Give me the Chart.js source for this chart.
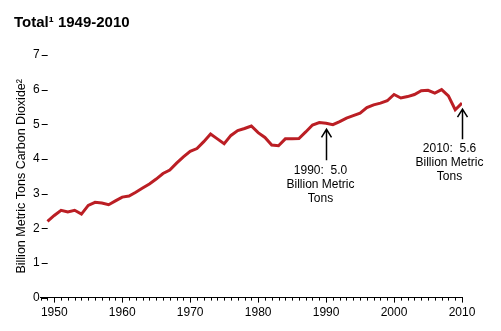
<!DOCTYPE html>
<html>
<head>
<meta charset="utf-8">
<script src="https://cdn.jsdelivr.net/npm/chart.js@4/dist/chart.umd.min.js"></script>
<style>
  html, body { margin: 0; padding: 0; background: #fff; }
  #wrap { width: 501px; height: 331px; }
</style>
</head>
<body>
<div id="wrap"><canvas id="chart"></canvas></div>
<script>
var years = [1949, 1950, 1951, 1952, 1953, 1954, 1955, 1956, 1957, 1958, 1959,
  1960, 1961, 1962, 1963, 1964, 1965, 1966, 1967, 1968, 1969,
  1970, 1971, 1972, 1973, 1974, 1975, 1976, 1977, 1978, 1979,
  1980, 1981, 1982, 1983, 1984, 1985, 1986, 1987, 1988, 1989,
  1990, 1991, 1992, 1993, 1994, 1995, 1996, 1997, 1998, 1999,
  2000, 2001, 2002, 2003, 2004, 2005, 2006, 2007, 2008, 2009, 2010];
var emissions = [2.20, 2.37, 2.52, 2.47, 2.52, 2.41, 2.66, 2.75, 2.73, 2.68, 2.79,
  2.90, 2.93, 3.04, 3.16, 3.28, 3.42, 3.58, 3.68, 3.88, 4.06,
  4.22, 4.30, 4.50, 4.72, 4.58, 4.44, 4.68, 4.82, 4.88, 4.95,
  4.76, 4.62, 4.40, 4.38, 4.58, 4.58, 4.59, 4.78, 4.98, 5.05,
  5.03, 4.99, 5.08, 5.18, 5.25, 5.32, 5.48, 5.56, 5.61, 5.68,
  5.86, 5.76, 5.80, 5.86, 5.97, 5.98, 5.90, 6.00, 5.82, 5.42, 5.61];
var xLabels = [1950, 1960, 1970, 1980, 1990, 2000, 2010];
var yLabels = [0, 1, 2, 3, 4, 5, 6, 7];
var notes = [
  { year: 1990, value: 5.03, text: ["1990:  5.0", "Billion Metric", "Tons"] },
  { year: 2010, value: 5.61, text: ["2010:  5.6", "Billion Metric", "Tons"] }
];

var FONT = '"Liberation Sans", Arial, sans-serif';

// minor year ticks, y dashes and the two arrow notes
var marksPlugin = {
  id: "marks",
  afterDraw: function (chart) {
    var ctx = chart.ctx;
    var xs = chart.scales.x;
    var ys = chart.scales.y;
    var area = chart.chartArea;
    ctx.save();
    ctx.strokeStyle = "#000";
    ctx.lineWidth = 1;
    ctx.beginPath();
    for (var yr = xs.min; yr <= xs.max; yr++) {
      var px = Math.round(xs.getPixelForValue(yr)) + 0.5;
      ctx.moveTo(px, area.bottom);
      ctx.lineTo(px, area.bottom + 3);
    }
    yLabels.forEach(function (v) {
      var py = Math.round(ys.getPixelForValue(v)) + 0.5;
      ctx.moveTo(area.left + 1, py);
      ctx.lineTo(area.left + 7, py);
    });
    ctx.stroke();

    notes.forEach(function (n, i) {
      var ax = Math.round(xs.getPixelForValue(n.year)) + 0.5;
      var tip = ys.getPixelForValue(n.value) + 6;
      var end = tip + (i === 0 ? 31 : 30);
      ctx.lineWidth = 1.5;
      ctx.beginPath();
      ctx.moveTo(ax, tip);
      ctx.lineTo(ax, end);
      ctx.moveTo(ax - 5, tip + 8);
      ctx.lineTo(ax, tip);
      ctx.lineTo(ax + 5, tip + 8);
      ctx.stroke();
      ctx.fillStyle = "#000";
      ctx.font = "12px " + FONT;
      ctx.textAlign = "center";
      ctx.textBaseline = "middle";
      var tx = ax - (i === 0 ? 6 : 13);
      n.text.forEach(function (t, k) {
        ctx.fillText(t, tx, end + 10 + k * 14);
      });
    });
    ctx.restore();
  }
};

var config = {
  type: "line",
  data: {
    datasets: [
      {
        data: years.map(function (y, i) { return { x: y, y: emissions[i] }; }),
        borderColor: "#bb1e24",
        borderWidth: 3,
        pointRadius: 0,
        tension: 0,
        fill: false
      }
    ]
  },
  options: {
    responsive: true,
    maintainAspectRatio: false,
    animation: false,
    layout: {
      padding: { left: 14, right: 39, top: 9, bottom: 8 }
    },
    plugins: {
      legend: { display: false },
      tooltip: { enabled: false },
      title: {
        display: true,
        text: "Total\u00b9 1949-2010",
        align: "start",
        color: "#000",
        font: { family: FONT, size: 15, weight: "bold" },
        padding: { top: 5, bottom: 23 }
      }
    },
    scales: {
      x: {
        type: "linear",
        min: 1948,
        max: 2010,
        afterBuildTicks: function (axis) {
          axis.ticks = xLabels.map(function (v) { return { value: v }; });
        },
        ticks: {
          color: "#000",
          font: { family: FONT, size: 12 },
          padding: 3,
          maxRotation: 0,
          callback: function (v) { return String(v); }
        },
        grid: {
          drawOnChartArea: false,
          drawTicks: true,
          tickLength: 5,
          color: "#000"
        },
        border: { display: true, color: "#000", width: 1 }
      },
      y: {
        min: 0,
        max: 7,
        afterBuildTicks: function (axis) {
          axis.ticks = yLabels.map(function (v) { return { value: v }; });
        },
        ticks: {
          color: "#000",
          font: { family: FONT, size: 12 },
          padding: 1
        },
        grid: { display: false, drawTicks: false, tickLength: 0 },
        border: { display: false },
        title: {
          display: true,
          text: "Billion Metric Tons Carbon Dioxide\u00b2",
          color: "#000",
          font: { family: FONT, size: 12.5 },
          padding: { top: 0, bottom: 3 }
        }
      }
    }
  },
  plugins: [marksPlugin]
};

window.onload = function () {
  var ctx = document.getElementById("chart").getContext("2d");
  window.myChart = new Chart(ctx, config);
};
</script>
</body>
</html>
